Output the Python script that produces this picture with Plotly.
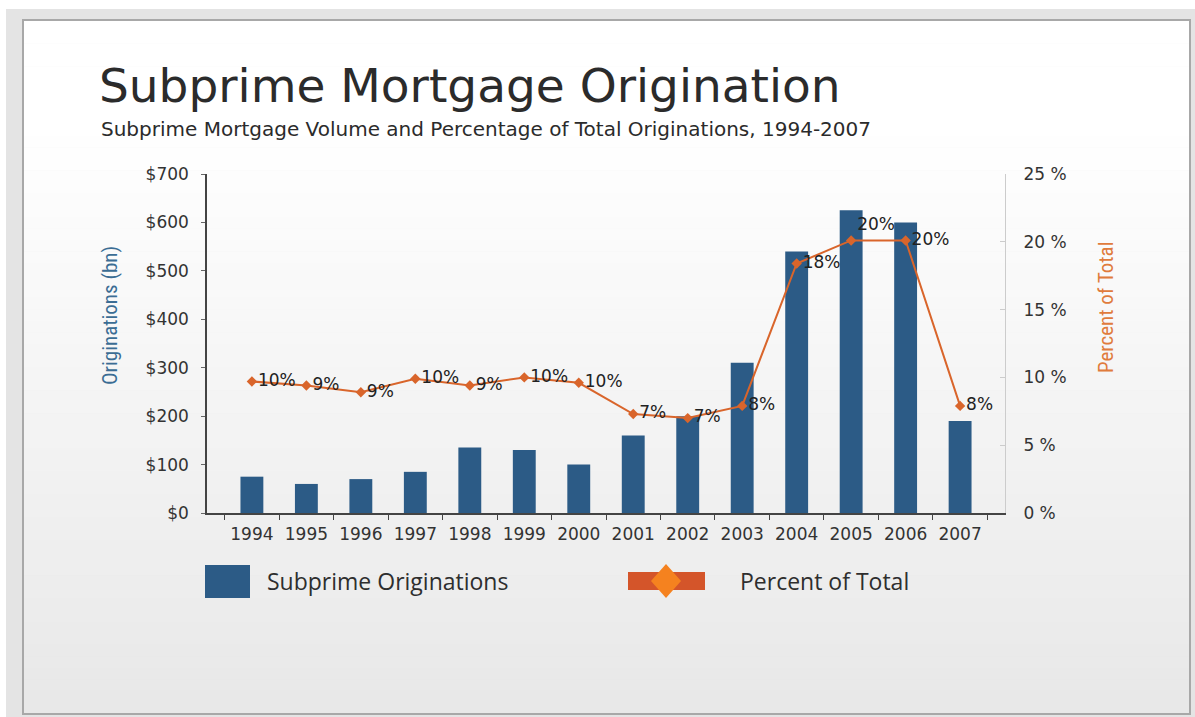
import plotly.graph_objects as go

# ---- data ----
years = ["1994", "1995", "1996", "1997", "1998", "1999", "2000",
         "2001", "2002", "2003", "2004", "2005", "2006", "2007"]
originations_bn = [75, 60, 70, 85, 135, 130, 100, 160, 200, 310, 540, 625, 600, 190]
percent_of_total = [9.7, 9.4, 8.9, 9.9, 9.4, 10.0, 9.6, 7.3, 7.0, 7.9, 18.4, 20.1, 20.1, 7.9]
label_positions = ["middle right"] * 11 + ["top right", "middle right", "middle right"]

# ---- canvas geometry (pixels) ----
W, H = 1195, 717
ML, MR, MT, MB = 207, 190, 174, 204
PW, PH = W - ML - MR, H - MT - MB


def px(x):
    return (x - ML) / PW


def py(y):
    return 1 - (y - MT) / PH


BAR_BLUE = "#2c5b86"
LINE_ORANGE = "#d9652b"
TICK_FONT = dict(family="DejaVu Sans", size=17, color="#333333")
AXIS_TITLE_FONT = "Liberation Sans Narrow, Roboto Condensed, Arial Narrow, sans-serif"

fig = go.Figure()

fig.add_trace(go.Bar(
    x=years, y=originations_bn, name="Subprime Originations",
    marker=dict(color=BAR_BLUE, line=dict(width=0)),
    yaxis="y", showlegend=False,
))

fig.add_trace(go.Scatter(
    x=years, y=percent_of_total, name="Percent of Total",
    mode="lines+markers+text",
    line=dict(color=LINE_ORANGE, width=2),
    marker=dict(symbol="diamond", size=8, color=LINE_ORANGE),
    text=[f"{v:.0f}%" for v in percent_of_total],
    textposition=label_positions,
    textfont=dict(family="DejaVu Sans", size=17, color="#222222"),
    yaxis="y2", showlegend=False, cliponaxis=False,
))

# ---- slide frame with a soft vertical gradient ----
shapes = [
    dict(type="rect", xref="paper", yref="paper", layer="below",
         x0=px(6), x1=px(1195), y0=py(9), y1=py(717),
         fillcolor="#e4e4e4", line=dict(width=0)),
]
top_y, bot_y = 20, 714
n_bands = 60
for i in range(n_bands):
    y0 = top_y + (bot_y - top_y) * i / n_bands
    y1 = top_y + (bot_y - top_y) * (i + 1) / n_bands
    t = i / (n_bands - 1)
    t = max(0.0, (t - 0.15) / 0.85)
    c = int(round(255 - t * (255 - 232)))
    shapes.append(dict(type="rect", xref="paper", yref="paper", layer="below",
                       x0=px(23), x1=px(1190), y0=py(y0), y1=py(y1 + 0.5),
                       fillcolor=f"rgb({c},{c},{c})", line=dict(width=0)))
shapes.append(dict(type="rect", xref="paper", yref="paper", layer="below",
                   x0=px(23), x1=px(1190), y0=py(20), y1=py(714),
                   fillcolor="rgba(0,0,0,0)", line=dict(color="#a8a8a8", width=2)))

# ---- custom legend glyphs ----
shapes += [
    dict(type="rect", xref="paper", yref="paper",
         x0=px(205), x1=px(250), y0=py(598), y1=py(565),
         fillcolor=BAR_BLUE, line=dict(width=0)),
    dict(type="rect", xref="paper", yref="paper",
         x0=px(628), x1=px(705), y0=py(590), y1=py(572),
         fillcolor="#d4552a", line=dict(width=0)),
    dict(type="path", xref="paper", yref="paper",
         path=(f"M {px(651)},{py(581)} L {px(666)},{py(564)} "
               f"L {px(681)},{py(581)} L {px(666)},{py(598)} Z"),
         fillcolor="#f5821f", line=dict(width=0)),
]

annotations = [
    dict(text="Subprime Mortgage Origination", xref="paper", yref="paper",
         x=px(97), y=py(86), xanchor="left", yanchor="middle", showarrow=False,
         font=dict(family="DejaVu Sans", size=47, color="#2b2b2b")),
    dict(text="Subprime Mortgage Volume and Percentage of Total Originations, 1994-2007",
         xref="paper", yref="paper", x=px(99), y=py(129), xanchor="left", yanchor="middle",
         showarrow=False, font=dict(family="DejaVu Sans", size=20, color="#2b2b2b")),
    dict(text="Subprime Originations", xref="paper", yref="paper",
         x=px(265), y=py(581), xanchor="left", yanchor="middle", showarrow=False,
         font=dict(family="Open Sans", size=23, color="#2e2e2e")),
    dict(text="Percent of Total", xref="paper", yref="paper",
         x=px(738), y=py(581), xanchor="left", yanchor="middle", showarrow=False,
         font=dict(family="Open Sans", size=23, color="#2e2e2e")),
    # axis titles
    dict(text="Originations (bn)", xref="paper", yref="paper",
         x=px(110), y=py(316), xanchor="center", yanchor="middle", textangle=-90,
         showarrow=False, font=dict(family=AXIS_TITLE_FONT, size=21, color="#3b6d94")),
    dict(text="Percent of Total", xref="paper", yref="paper",
         x=px(1106), y=py(308), xanchor="center", yanchor="middle", textangle=-90,
         showarrow=False, font=dict(family=AXIS_TITLE_FONT, size=21, color="#e07b3c")),
]

fig.update_layout(
    width=W, height=H,
    margin=dict(l=ML, r=MR, t=MT, b=MB, pad=0),
    paper_bgcolor="white",
    plot_bgcolor="rgba(0,0,0,0)",
    bargap=0.58,
    shapes=shapes,
    annotations=annotations,
    xaxis=dict(
        type="category", showgrid=False, showline=True, linecolor="#444444", linewidth=1.5,
        ticks="outside", ticklen=5, tickcolor="#444444", tickson="boundaries",
        tickfont=TICK_FONT, ticklabelstandoff=5,
    ),
    yaxis=dict(
        range=[0, 700], dtick=100, tickprefix="$", showgrid=False, zeroline=False,
        showline=True, linecolor="#444444", linewidth=1.5,
        ticks="outside", ticklen=4, tickcolor="#666666",
        tickfont=TICK_FONT, ticklabelstandoff=9,
    ),
    yaxis2=dict(
        range=[0, 25], dtick=5, ticksuffix=" %", overlaying="y", side="right",
        showgrid=False, zeroline=False, showline=True, linecolor="#cccccc", linewidth=1,
        ticks="inside", ticklen=5, tickcolor="#cccccc",
        tickfont=TICK_FONT, ticklabelstandoff=14,
    ),
)

fig.write_html("out.html")
